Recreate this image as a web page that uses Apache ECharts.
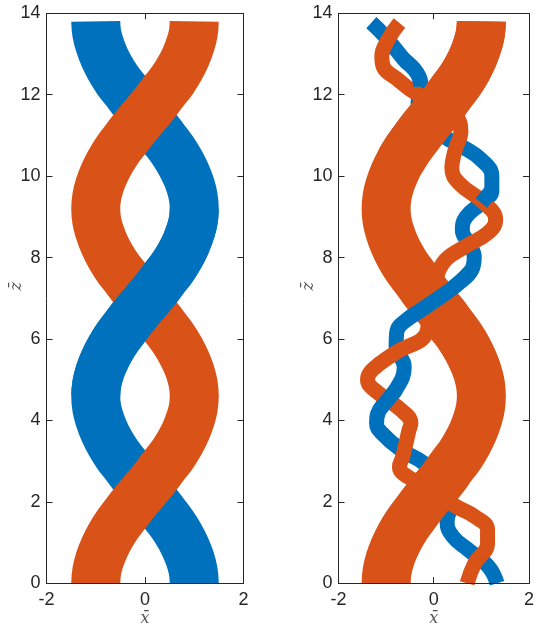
<!DOCTYPE html>
<html>
<head>
<meta charset="utf-8">
<script src="https://cdn.jsdelivr.net/npm/echarts@6/dist/echarts.min.js"></script>
<style>html,body{margin:0;padding:0;background:#fff;}#c{width:537px;height:631px;}</style>
</head>
<body>
<div id="c"></div>
<script>
// ---- data ----
// thick double helix (both panels share the orange strand)
const zBig = [0,0.29,0.58,0.86,1.15,1.44,1.73,2.01,2.3,2.59,2.88,3.16,3.45,3.74,4.03,4.31,4.6,4.89,5.18,5.46,5.75,6.04,6.33,6.61,6.9,7.19,7.48,7.76,8.05,8.34,8.63,8.91,9.2,9.49,9.78,10.06,10.35,10.64,10.93,11.21,11.5,11.79,12.08,12.36,12.65,12.94,13.23,13.51,13.8];
const xOrangeBig = [-1,-0.98,-0.92,-0.83,-0.71,-0.56,-0.38,-0.2,0,0.2,0.38,0.56,0.71,0.83,0.92,0.98,1,0.98,0.92,0.83,0.71,0.56,0.38,0.2,0,-0.2,-0.38,-0.56,-0.71,-0.83,-0.92,-0.98,-1,-0.98,-0.92,-0.83,-0.71,-0.56,-0.38,-0.2,0,0.2,0.38,0.56,0.71,0.83,0.92,0.98,1];
const xBlueBig = [1,0.98,0.92,0.83,0.71,0.56,0.38,0.2,0,-0.2,-0.38,-0.56,-0.71,-0.83,-0.92,-0.98,-1,-0.98,-0.92,-0.83,-0.71,-0.56,-0.38,-0.2,0,0.2,0.38,0.56,0.71,0.83,0.92,0.98,1,0.98,0.92,0.83,0.71,0.56,0.38,0.2,0,-0.2,-0.38,-0.56,-0.71,-0.83,-0.92,-0.98,-1];

// thin strands of right panel (top to bottom)
const thinBlueX = [-1.31,-1.02,-0.62,-0.35,-0.27,-0.33,-0.10,0.22,0.59,1.0,1.22,1.22,1.0,0.68,0.60,0.73,0.85,0.80,0.50,0.12,-0.48,-0.78,-0.79,-0.62,-0.80,-1.14,-1.20,-1.10,-0.69,-0.21,0.15,0.36,0.28,0.40,0.73,1.15,1.33];
const thinBlueZ = [13.77,13.43,12.86,12.53,12.20,11.80,11.35,10.97,10.73,10.4,10.0,9.65,9.34,9.0,8.68,8.35,8.02,7.70,7.35,7.02,6.55,6.14,5.81,5.32,4.75,4.26,3.93,3.70,3.28,2.95,2.50,1.97,1.50,1.15,0.82,0.41,0.0];
const thinOrangeX = [-0.72,-0.96,-1.09,-1.06,-0.75,-0.48,0.0,0.45,0.57,0.45,0.38,0.53,1.06,1.30,1.13,0.66,0.19,0.0,-0.1,-0.15,-0.82,-1.29,-1.39,-1.16,-0.69,-0.48,-0.52,-0.65,-0.72,-0.55,0.0,0.42,0.86,1.13,1.13,0.86,0.70];
const thinOrangeZ = [13.76,13.35,12.94,12.69,12.37,12.12,11.8,11.5,11.1,10.64,10.2,9.83,9.34,8.93,8.60,8.27,7.86,7.2,6.6,6.15,5.65,5.24,5.0,4.67,4.26,3.93,3.76,3.11,2.86,2.62,2.3,1.92,1.64,1.31,0.98,0.49,0.0];

// depth ordering (z ranges of the pieces that lie in front)
const leftBlueFront = [4.6, 9.2];
const thinBlueFront = [[11.9,12.9],[9.2,9.9],[6.2,7.9],[4.2,4.9]];
const bigOrangeFront = [10.3, 13.8];

const xTicks = [-2, 0, 2];
const zTicks = [0, 2, 4, 6, 8, 10, 12, 14];
const xName = 'x\u0304';
const zName = 'z\u0304';

// ---- helpers ----
function pts(xs, zs, lo, hi) {
  const out = [];
  for (let i = 0; i < xs.length; i++) {
    if (lo === undefined || (zs[i] >= lo && zs[i] <= hi)) out.push([xs[i], zs[i]]);
  }
  return out;
}
const BLUE = '#0072BD', ORANGE = '#D95319', AX = '#262626';
let zc = 1;
function line(data, color, width, grid) {
  return {
    type: 'line', data: data, xAxisIndex: grid * 2, yAxisIndex: grid * 2,
    showSymbol: false, symbol: 'none', smooth: 0.45, silent: true, z: (zc++),
    lineStyle: { color: color, width: width, cap: 'butt', join: 'round' },
    animation: false
  };
}

const series = [];
// left panel
series.push(line(pts(xBlueBig, zBig), BLUE, 49, 0));
series.push(line(pts(xOrangeBig, zBig), ORANGE, 49, 0));
series.push(line(pts(xBlueBig, zBig, leftBlueFront[0], leftBlueFront[1]), BLUE, 49, 0));
// right panel
series.push(line(pts(thinBlueX, thinBlueZ), BLUE, 15, 1));
series.push(line(pts(xOrangeBig, zBig), ORANGE, 49, 1));
series.push(line(pts(thinOrangeX, thinOrangeZ), ORANGE, 15, 1));
thinBlueFront.forEach(r => series.push(line(pts(thinBlueX, thinBlueZ, r[0], r[1]), BLUE, 15, 1)));
series.push(line(pts(xOrangeBig, zBig, bigOrangeFront[0], bigOrangeFront[1]), ORANGE, 49, 1));

const lab = { color: AX, fontFamily: 'Liberation Sans', fontSize: 18 };
function xAx(grid, pos) {
  return {
    gridIndex: grid, type: 'value', min: xTicks[0], max: xTicks[xTicks.length - 1], interval: 2,
    position: pos, z: 50,
    axisLine: { show: true, onZero: false, lineStyle: { color: AX, width: 1 } },
    axisTick: { show: true, inside: true, length: 6, lineStyle: { color: AX } },
    axisLabel: Object.assign({ show: pos === 'bottom', margin: 8 }, lab),
    splitLine: { show: false }
  };
}
function yAx(grid, pos) {
  return {
    gridIndex: grid, type: 'value', min: zTicks[0], max: zTicks[zTicks.length - 1], interval: 2,
    position: pos, z: 50,
    axisLine: { show: true, onZero: false, lineStyle: { color: AX, width: 1 } },
    axisTick: { show: true, inside: true, length: 6, lineStyle: { color: AX } },
    axisLabel: Object.assign({ show: pos === 'left', margin: 6 }, lab),
    splitLine: { show: false }
  };
}

const chart = echarts.init(document.getElementById('c'), null, { renderer: 'canvas' });
chart.setOption({
  animation: false,
  backgroundColor: '#fff',
  grid: [
    { left: 46.5, top: 13.3, width: 197, height: 570 },
    { left: 338.5, top: 13.3, width: 197, height: 570 }
  ],
  xAxis: [xAx(0, 'bottom'), xAx(0, 'top'), xAx(1, 'bottom'), xAx(1, 'top')],
  yAxis: [yAx(0, 'left'), yAx(0, 'right'), yAx(1, 'left'), yAx(1, 'right')],
  series: series
});

// axis titles placed relative to each grid
const font = 'italic 16px "DejaVu Serif"';
const graphics = [];
[0, 1].forEach(g => {
  const bl = chart.convertToPixel({ gridIndex: g }, [xTicks[0], zTicks[0]]);
  const mid = chart.convertToPixel({ gridIndex: g }, [0, 7]);
  graphics.push({ type: 'text', x: mid[0], y: bl[1] + 36, z: 100,
    style: { text: xName, font: font, fill: '#555', align: 'center', verticalAlign: 'middle' } });
  graphics.push({ type: 'text', x: bl[0] - 29.5, y: mid[1] - 12, rotation: Math.PI / 2, z: 100,
    style: { text: zName, font: font, fill: '#555', align: 'center', verticalAlign: 'middle' } });
});
chart.setOption({ graphic: graphics });
</script>
</body>
</html>
